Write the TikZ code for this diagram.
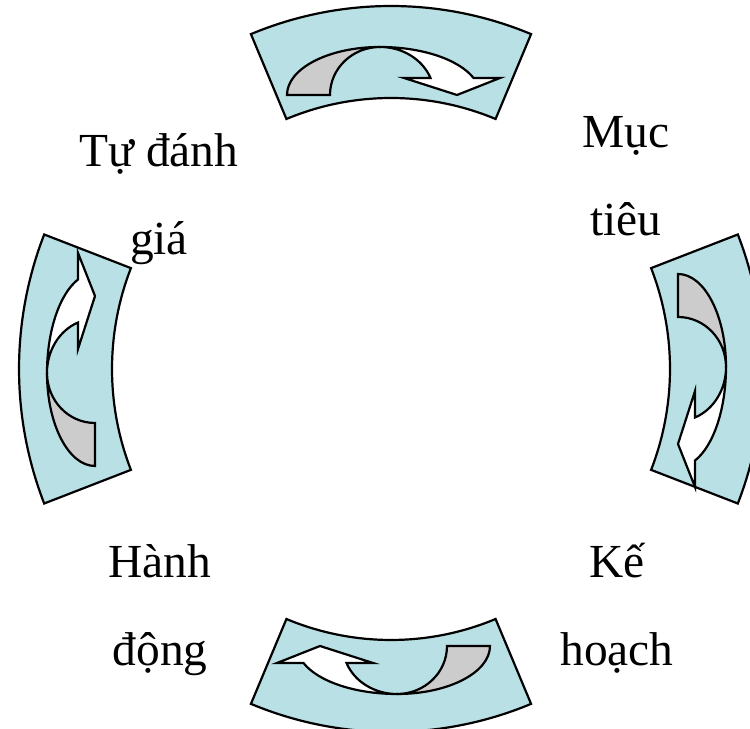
\documentclass[tikz,border=0pt]{standalone}
\usepackage{fontspec}
\setmainfont{Liberation Serif}
\definecolor{ringfill}{HTML}{B9E0E4}
\definecolor{backgrey}{HTML}{CCCCCC}

% one ring segment: start angle, end angle, inner r, outer r
\newcommand{\ringpart}[4]{%
  \filldraw[ring] (#1:#4) arc[start angle=#1, end angle=#2, radius=#4]
    -- (#2:#3) arc[start angle=#2, end angle=#1, radius=#3] -- cycle;}

% curved arrow, base on y=0, bulging up, head on the right
\newcommand{\turnarrow}{%
  \filldraw[back] (-93,0) arc[start angle=180, end angle=90, x radius=93, y radius=48]
    arc[start angle=90, end angle=180, x radius=50, y radius=48] -- cycle;
  \filldraw[front] (0,48) arc[start angle=90, end angle=20.7, x radius=100, y radius=48]
    -- (120,17) -- (77,0) -- (24,17) -- (50.5,17)
    arc[start angle=20.7, end angle=90, x radius=54, y radius=48] -- cycle;}

\begin{document}
\begin{tikzpicture}[
    x=0.02cm, y=0.02cm,
    ring/.style={fill=ringfill, draw=black, line width=1.25pt},
    back/.style={fill=backgrey, draw=black, line width=1.25pt},
    front/.style={fill=white, draw=black, line width=1.25pt},
    lbl/.style={font=\fontsize{27}{50}\selectfont, align=center, inner sep=0pt},
  ]
  \clip (0,0) rectangle (750,729);

  % ---- the four ring segments
  \begin{scope}[shift={(391,360)}]
    \ringpart{67.3}{112.7}{271}{363}
    \ringpart{158.8}{201.2}{279}{372}
    \ringpart{247.3}{292.7}{271}{363}
    \ringpart{-21.2}{21.2}{279}{372}
  \end{scope}

  % ---- arrows on the segments
  \begin{scope}[shift={(380,634)}]
    \turnarrow
  \end{scope}
  \begin{scope}[shift={(678,362)}, rotate=-90]
    \turnarrow
  \end{scope}
  \begin{scope}[shift={(397,83)}, rotate=180]
    \turnarrow
  \end{scope}
  \begin{scope}[shift={(95,356)}, rotate=90]
    \turnarrow
  \end{scope}

  % ---- labels
  \node[lbl] (goal) at (626,553) {Mục\\tiêu};
  \node[lbl] (plan) at (617,121) {Kế\\hoạch};
  \node[lbl] (act) at (160,119) {Hành\\động};
  \node[lbl] (review) at (159,530) {Tự đánh\\giá};
\end{tikzpicture}
\end{document}
